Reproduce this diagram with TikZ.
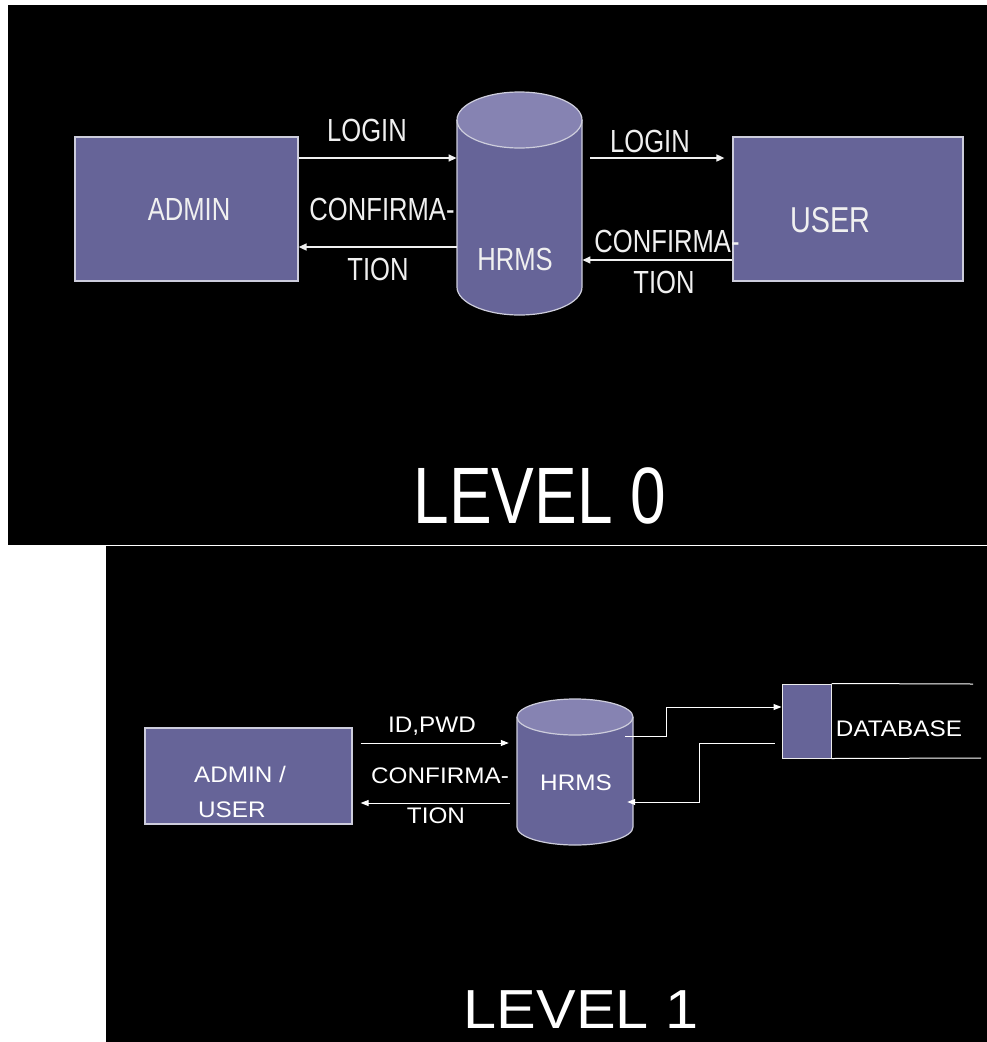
\documentclass[tikz,border=0pt]{standalone}
\usepackage{fontspec}
\setmainfont{Liberation Sans}
\newfontfamily\narrowsf[FakeStretch=0.8]{Liberation Sans}
\newfontfamily\widesf[FakeStretch=1.08]{Liberation Sans}
\usetikzlibrary{arrows.meta,calc}
\definecolor{boxfill}{RGB}{102,100,152}
\definecolor{capfill}{RGB}{134,131,178}
\definecolor{edge}{RGB}{205,205,220}
\definecolor{ink}{RGB}{240,240,240}

\begin{document}
\begin{tikzpicture}[x=1pt,y=-1pt,
  entity/.style={draw=edge, line width=1.2pt, fill=boxfill, inner sep=0pt},
  area/.style={inner sep=0pt},
  flowA/.style={draw=ink, line width=1.6pt, -{Triangle[length=8pt,width=7pt]}},
  flowB/.style={draw=white, line width=1pt, -{Triangle[length=8pt,width=6pt]}},
  labA/.style={text=ink, inner sep=0pt, anchor=base, font=\narrowsf\fontsize{32}{36}\selectfont},
  labB/.style={text=white, inner sep=0pt, anchor=base, font=\widesf\fontsize{22.5}{26}\selectfont},
  cylbody/.style={fill=boxfill},
  cylcap/.style={fill=capfill},
  cyledge/.style={draw=edge, line width=1.2pt}
]
\useasboundingbox (0,0) rectangle (987,1042);
\fill[white] (0,0) rectangle (987,1042);

% two black panels
\fill[black] (8,5) rectangle (987,545);
\fill[black] (106,546) rectangle (987,1042);

% ---------------- LEVEL 0 ----------------
\node[entity, minimum width=223pt, minimum height=144pt] (admin) at (186.5,209) {};
\node[entity, minimum width=230pt, minimum height=144pt] (user) at (848,209) {};
\node[area, minimum width=125.5pt, minimum height=223pt] (hrms) at (519.5,203.5) {};

% cylinder of the HRMS store
\fill[cylbody] (457,120) -- (457,287)
  arc[start angle=180, end angle=360, x radius=62.5pt, y radius=28pt] -- (582,120) -- cycle;
\fill[cylcap] (519.5,120) ellipse[x radius=62.5pt, y radius=28pt];
\draw[cyledge] (457,120) -- (457,287)
  arc[start angle=180, end angle=360, x radius=62.5pt, y radius=28pt] -- (582,120);
\draw[cyledge] (519.5,120) ellipse[x radius=62.5pt, y radius=28pt];

\node[labA] (tAdmin) at (189,220) {ADMIN};
\node[labA, font=\narrowsf\fontsize{36}{40}\selectfont] (tUser) at (830,232) {USER};
\node[labA] (tHrms) at (515,270) {HRMS};

\coordinate (l1) at (0,158);
\coordinate (l2) at (0,247);
\coordinate (l3) at (0,260);

\draw[flowA] (admin.east |- l1) -- (hrms.west |- l1);
\draw[flowA] (hrms.west |- l2) -- (admin.east |- l2);
\draw[flowA] ($(hrms.east |- l1)+(8,0)$) -- ($(user.west |- l1)+(-8,0)$);
\draw[flowA] (user.west |- l3) -- (hrms.east |- l3);

\node[labA] (tLogin1) at (367,141) {LOGIN};
\node[labA] (tConf1) at (382,220) {CONFIRMA-};
\node[labA] (tTion1) at (378,280) {TION};
\node[labA] (tLogin2) at (650,152) {LOGIN};
\node[labA] (tConf2) at (667,252) {CONFIRMA-};
\node[labA] (tTion2) at (664,293) {TION};

\node[labA, text=white, font=\narrowsf\fontsize{80}{90}\selectfont] (lvl0) at (540,523) {LEVEL 0};

% ---------------- LEVEL 1 ----------------
\node[entity, minimum width=207pt, minimum height=96pt] (au) at (248.5,776) {};
\node[area, minimum width=116pt, minimum height=146pt] (hrms2) at (575,772) {};
\node[entity, draw=white!85!gray, line width=1pt, minimum width=49pt, minimum height=74pt] (db) at (806.5,721) {};

\fill[cylbody] (517,717) -- (517,827)
  arc[start angle=180, end angle=360, x radius=58pt, y radius=18pt] -- (633,717) -- cycle;
\fill[cylcap] (575,717) ellipse[x radius=58pt, y radius=18pt];
\draw[cyledge] (517,717) -- (517,827)
  arc[start angle=180, end angle=360, x radius=58pt, y radius=18pt] -- (633,717);
\draw[cyledge] (575,717) ellipse[x radius=58pt, y radius=18pt];

% open-ended data store lines
\coordinate (dbTopEnd) at (973,684);
\coordinate (dbBotEnd) at (981,758);
\draw[white, line width=1pt] (db.north east) -- (dbTopEnd);
\draw[white, line width=1pt] (db.south east) -- (dbBotEnd);

\node[labB, anchor=base west] (tAdm2) at (194,782) {ADMIN /};
\node[labB, anchor=base west] (tUsr2) at (198,817) {USER};
\node[labB] (tHrms2) at (576,790) {HRMS};
\node[labB] (tDb) at (899,736) {DATABASE};

\coordinate (m1) at (0,743);
\coordinate (m2) at (0,803);
\draw[flowB] ($(au.east |- m1)+(8,0)$) -- ($(hrms2.west |- m1)+(-8,0)$);
\draw[flowB] ($(hrms2.west |- m2)+(-7,0)$) -- ($(au.east |- m2)+(8,0)$);

\coordinate (d1) at (0,736);
\coordinate (d2) at (0,707);
\coordinate (d3) at (0,743);
\coordinate (d4) at (0,802);
\draw[flowB] ($(hrms2.east |- d1)+(-8,0)$) -- ++(41,0) |- (db.west |- d2);
\draw[flowB] ($(db.west |- d3)+(-7,0)$) -- ++(-75,0) |- ($(hrms2.east |- d4)+(-6,0)$);

\node[labB] (tId) at (432,732) {ID,PWD};
\node[labB] (tConf3) at (440,783) {CONFIRMA-};
\node[labB] (tTion3) at (436,823) {TION};

\node[labB, font=\widesf\fontsize{55}{62}\selectfont] (lvl1) at (581,1028) {LEVEL 1};
\end{tikzpicture}
\end{document}
